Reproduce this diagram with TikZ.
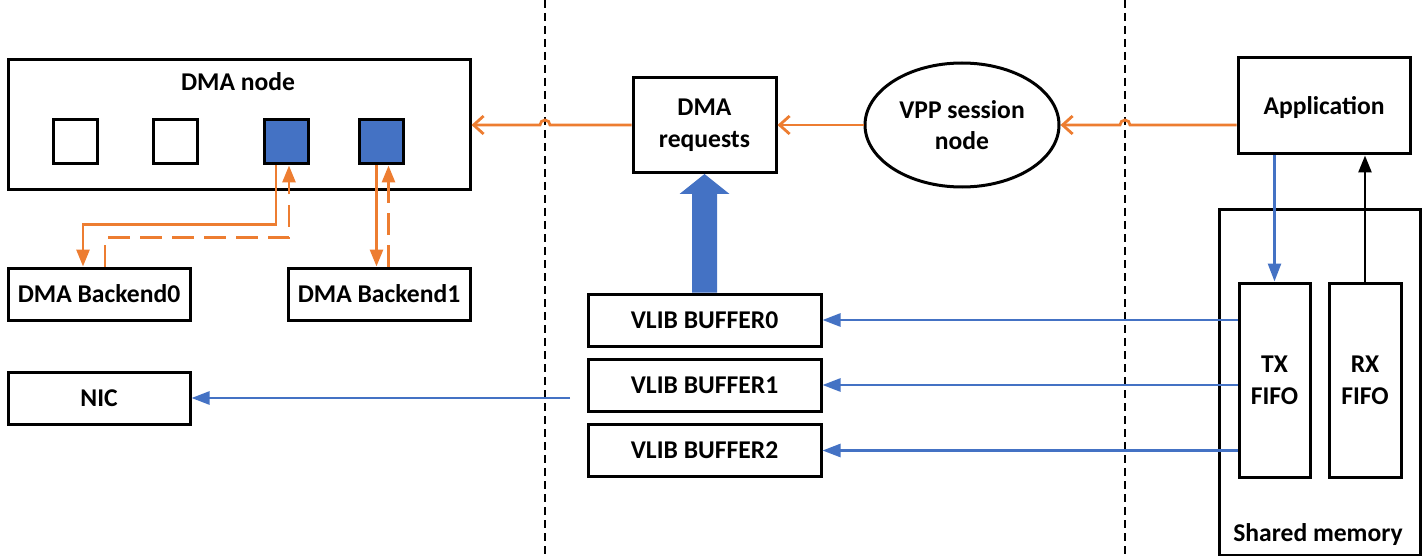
\documentclass[tikz,border=0pt]{standalone}
\usepackage{fontspec}
\setmainfont{Carlito}
\usetikzlibrary{arrows.meta,shapes.geometric}
\definecolor{dmaorange}{RGB}{237,125,49}
\definecolor{dmablue}{RGB}{68,114,196}
\tikzset{
  box/.style={draw,line width=1.5pt,inner sep=0pt,align=center,font=\fontsize{12.8}{15.8}\selectfont\bfseries},
  slot/.style={draw,line width=1.5pt,minimum size=22pt,inner sep=0pt},
  oline/.style={draw=dmaorange,line width=1.4pt},
  bline/.style={draw=dmablue,line width=1.3pt,-{Triangle[length=9pt,width=6.5pt]}},
  otip/.style={-{Straight Barb[length=5pt,width=9pt]}},
  ftip/.style={-{Triangle[length=8.5pt,width=6.5pt]}},
  odash/.style={dash pattern=on 11pt off 5pt},
  divider/.style={draw,line width=0.75pt,dash pattern=on 4pt off 2.5pt},
}

\begin{document}
\begin{tikzpicture}[x=0.5pt,y=-0.5pt]
        \useasboundingbox (0,0) rectangle (1425,556);
        \coordinate (d1) at (545,0);
        \coordinate (d2) at (545,556);
        \coordinate (d3) at (1125,0);
        \coordinate (d4) at (1125,556);
        \coordinate (nicsrc) at (570,398);

        \draw[divider] (d1) -- (d2);
        \draw[divider] (d3) -- (d4);

        \node[box,minimum width=231pt,minimum height=65pt] (dma) at (239,125) {};
        \node[box,draw=none] (dmatitle) at (238,82) {DMA node};
        \node[slot] (sq1) at (75,142) {};
        \node[slot] (sq2) at (175,142) {};
        \node[slot,fill=dmablue] (sq3) at (286,142) {};
        \node[slot,fill=dmablue] (sq4) at (381,142) {};
        \node[box,minimum width=91pt,minimum height=26pt] (be0) at (99,294) {DMA Backend0};
        \node[box,minimum width=91pt,minimum height=26pt] (be1) at (379,294) {DMA Backend1};
        \node[box,minimum width=91pt,minimum height=26pt] (nic) at (99,398) {NIC};

        \node[box,minimum width=71.5pt,minimum height=47.5pt] (req) at (704.5,125) {DMA\\requests};
        \node[box,minimum width=116.5pt,minimum height=26pt] (buf0) at (704.5,320) {VLIB BUFFER0};
        \node[box,minimum width=116.5pt,minimum height=26pt] (buf1) at (704.5,385) {VLIB BUFFER1};
        \node[box,minimum width=116.5pt,minimum height=26pt] (buf2) at (704.5,450.5) {VLIB BUFFER2};
        \node[box,ellipse,minimum width=97pt,minimum height=62pt] (vpp) at (962,125) {VPP session\\node};

        \node[box,minimum width=86pt,minimum height=48pt,text depth=0pt] (app) at (1324,106) {Application};
        \node[box,minimum width=100.5pt,minimum height=173pt] (shm) at (1319.5,382) {};
        \node[box,draw=none] (shmlabel) at (1318,535) {Shared memory};
        \node[box,minimum width=35.5pt,minimum height=97pt] (tx) at (1274.5,380) {TX\\FIFO};
        \node[box,minimum width=36pt,minimum height=97pt] (rx) at (1365,380) {RX\\FIFO};

        \draw[oline,otip] (req.west) -- (550,125) arc[start angle=0,end angle=180,radius=2.5pt] -- (req.west -| dma.east);
        \draw[oline,otip] (vpp.west) -- (req.east);
        \draw[oline,otip] (vpp -| app.west) -- (1130,125) arc[start angle=0,end angle=180,radius=2.5pt] -- (vpp.east);

        \draw[oline,ftip] ([xshift=-5pt]sq3.south) -- ++(0,59) -| ([xshift=-8pt]be0.north);
        \draw[oline,ftip,odash] ([xshift=3pt]be0.north) -- ++(0,-29) -| ([xshift=1.5pt]sq3.south);
        \draw[oline,ftip] ([xshift=-2.25pt]sq4.south) -- ([xshift=-2.25pt]sq4.south |- be1.north);
        \draw[oline,ftip,odash] ([xshift=3.75pt]sq4.south |- be1.north) -- ([xshift=3.75pt]sq4.south);

        \fill[dmablue] ([xshift=-6.25pt]buf0.north) -- ([xshift=-6.25pt,yshift=-10pt]req.south)
          -- ([xshift=-12.5pt,yshift=-10pt]req.south) -- (req.south)
          -- ([xshift=12.5pt,yshift=-10pt]req.south) -- ([xshift=6.25pt,yshift=-10pt]req.south)
          -- ([xshift=6.25pt]buf0.north) -- cycle;

        \draw[bline] (tx.north |- app.south) -- (tx.north);
        \draw[draw=black,line width=1.3pt,ftip] (rx.north) -- (rx.north |- app.south);
        \draw[bline] (tx.west |- buf0) -- (buf0.east);
        \draw[bline] (tx.west |- buf1) -- (buf1.east);
        \draw[bline] (tx.west |- buf2) -- (buf2.east);
        \draw[bline] (nicsrc) -- (nic.east);
    \end{tikzpicture}
\end{document}
